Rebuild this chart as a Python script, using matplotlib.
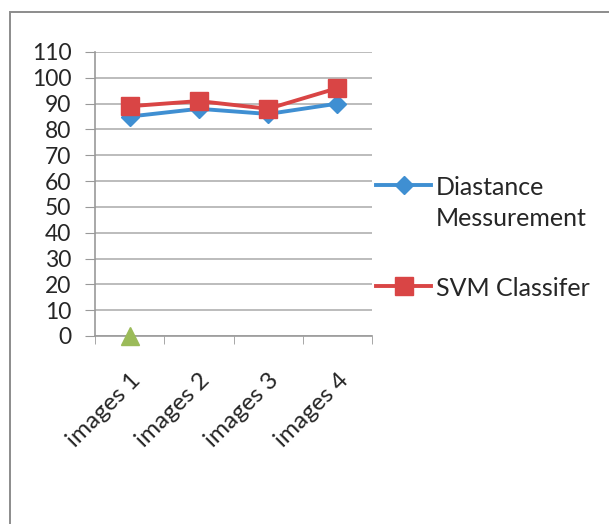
import matplotlib.pyplot as plt
from matplotlib.patches import Rectangle

plt.rcParams['font.family'] = ['Lato', 'DejaVu Sans']

images = ['images 1', 'images 2', 'images 3', 'images 4']
distance = [85, 88, 86, 90]
svm = [89, 91, 88, 96]
extra = [0]  # third series, only the first image has a value
yticks = list(range(0, 111, 10))

fig = plt.figure(figsize=(6.09, 5.24), dpi=100)
ax = fig.add_axes([95 / 609, 1 - 336 / 524, 277 / 609, 284 / 524])

x = list(range(len(images)))
ax.plot(x, distance, color='#3f8fd2', lw=2.8, marker='D', ms=9,
        label='Diastance\nMessurement', zorder=3)
ax.plot(x, svm, color='#d94545', lw=2.8, marker='s', ms=13,
        label='SVM Classifer', zorder=4)
ax.plot(x[:len(extra)], extra, color='#9bbb59', lw=0, marker='^', ms=13,
        label='_nolegend_', zorder=5, clip_on=False)

ax.set_xlim(-0.5, len(images) - 0.5)
ax.set_ylim(0, 110)
ax.set_yticks(yticks)
ax.grid(axis='y', color='#b0b0b0', lw=1.2)
ax.set_axisbelow(True)
ax.tick_params(axis='y', length=7, color='#999999', labelsize=16.5,
               pad=10, labelcolor='#262626')

# category labels sit at the centres, tick marks at the boundaries
ax.set_xticks(x)
ax.set_xticklabels(images, rotation=45, ha='right', rotation_mode='anchor',
                   fontsize=17.5, color='#262626')
ax.set_xticks([i - 0.5 for i in range(len(images) + 1)], minor=True)
ax.tick_params(axis='x', which='major', length=0, pad=24)
ax.tick_params(axis='x', which='minor', length=6, color='#999999')

for side in ['top', 'right']:
    ax.spines[side].set_visible(False)
for side in ['left', 'bottom']:
    ax.spines[side].set_color('#999999')
    ax.spines[side].set_linewidth(1.2)

leg = ax.legend(loc='upper left', bbox_to_anchor=(376 / 609, 1 - 176 / 524),
                bbox_transform=fig.transFigure, frameon=False, fontsize=18,
                handlelength=2.2, handletextpad=0.2, labelspacing=1.9,
                borderaxespad=0, borderpad=0)
for t in leg.get_texts():
    t.set_color('#262626')
    t.set_linespacing(1.4)
# keep each handle level with the first line of its label
for col in leg._legend_handle_box.get_children():
    for item in col.get_children():
        item.align = 'top'

# chart area border
fig.patches.append(Rectangle((10 / 609, -0.2), 1.2, 1.2 - 12 / 524,
                             transform=fig.transFigure, fill=False,
                             edgecolor='#8c8c8c', lw=1.4))

fig.savefig('out.png', dpi=100)
